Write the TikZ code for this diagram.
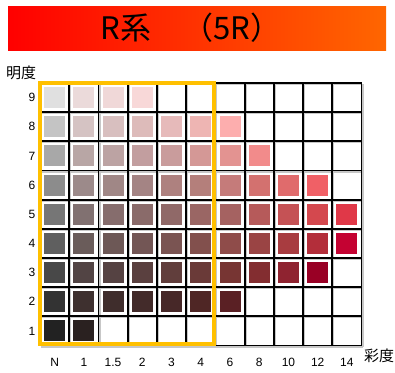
\documentclass[tikz,border=0pt]{standalone}
\usepackage{fontspec}
\setmainfont{Liberation Sans}
\newfontfamily\jpfont{Noto Sans CJK JP}
\definecolor{orangebox}{HTML}{FFC000}
\definecolor{barend}{HTML}{FF6600}
\begin{document}
\begin{tikzpicture}[x=1pt,y=-1pt,
   gridline/.style={line width=1.8pt},
   gridshadow/.style={line width=1.2pt,black!22},
   swatch/.style={inner sep=0pt,minimum size=21pt},
   axislabel/.style={font=\fontsize{12}{12}\selectfont},
   namelabel/.style={font=\jpfont\fontsize{15}{15}\selectfont}]
   \def\cw{29.23}
   \def\ch{29.17}
   \useasboundingbox (0,0) rectangle (395,372);
   % title bar
   \shade[left color=red,right color=barend] (8,6) rectangle (386,50);
   \node[font=\jpfont\fontsize{31}{31}\selectfont] (title) at (191,28) {R系　（5R）};
   % grid
   \foreach \i in {0,...,11}
      \draw[gridshadow] (41.5+\i*\cw,84) -- (41.5+\i*\cw,347);
   \foreach \j in {0,...,9}
      \draw[gridshadow] (41,84.5+\j*\ch) -- (363,84.5+\j*\ch);
   \foreach \i in {0,...,11}
      \draw[gridline] (40+\i*\cw,83) -- (40+\i*\cw,345.5);
   \foreach \j in {0,...,9}
      \draw[gridline] (40,83+\j*\ch) -- (361.5,83+\j*\ch);
   % swatches: column/value/colour
   \foreach \c/\r/\hex in {
      0/9/E0E0E0, 1/9/EBDADA, 2/9/F0D8D8, 3/9/F8D8D8,
      0/8/C4C4C4, 1/8/D5C3C3, 2/8/D8BFBF, 3/8/DDBBBA, 4/8/E6BABA, 5/8/EEB5B3, 6/8/FDAEAE,
      0/7/A8A8A8, 1/7/B8A6A5, 2/7/BCA3A3, 3/7/C29E9F, 4/7/C99C9C, 5/7/D49896, 6/7/E39391, 7/7/F28B8B,
      0/6/8C8C8C, 1/6/9C8A8A, 2/6/A08786, 3/6/A48484, 4/6/AE817F, 5/6/B47F7B, 6/6/C57B7A, 7/6/D3716F, 8/6/E06B6C, 9/6/F06066,
      0/5/767676, 1/5/817171, 2/5/866D6D, 3/5/8A6B6A, 4/5/906968, 5/5/9A6664, 6/5/A56261, 7/5/B65A5A, 8/5/C55255, 9/5/D4484E, 10/5/E03848,
      0/4/5F5F5F, 1/4/6A5C5A, 2/4/6D5856, 3/4/735655, 4/4/7A5452, 5/4/82504D, 6/4/8F4C4A, 7/4/9A4444, 8/4/A83C40, 9/4/B32E3A, 10/4/C40232,
      0/3/484848, 1/3/524444, 2/3/554242, 3/3/5A403F, 4/3/613E3C, 5/3/6A3A38, 6/3/773533, 7/3/832D30, 8/3/8F2330, 9/3/990025,
      0/2/333333, 1/2/3E302F, 2/2/3F2D2C, 3/2/432B2A, 4/2/472828, 5/2/4F2625, 6/2/5A2024,
      0/1/222222, 1/1/2A2120} {
      \definecolor{sw}{HTML}{\hex}
      \node[swatch,fill=sw] (s-\c-\r) at ({40+(\c+0.5)*\cw},{83+(9.5-\r)*\ch}) {};
   }
   % chroma 0--4 frame
   \draw[line width=4pt,orangebox] (40,82.5) rectangle (214,343.5);
   % axis labels
   \foreach \lab [count=\c from 0] in {N,1,1.5,2,3,4,6,8,10,12,14}
      \node[axislabel] (c-\c) at ({40+(\c+0.5)*\cw},362.5) {\lab};
   \foreach \r in {1,...,9}
      \node[axislabel] (v-\r) at (32,{83+(9.5-\r)*\ch}) {\r};
   \node[namelabel] (value) at (21,73) {明度};
   \node[namelabel] (chroma) at (379,356) {彩度};
\end{tikzpicture}
\end{document}
